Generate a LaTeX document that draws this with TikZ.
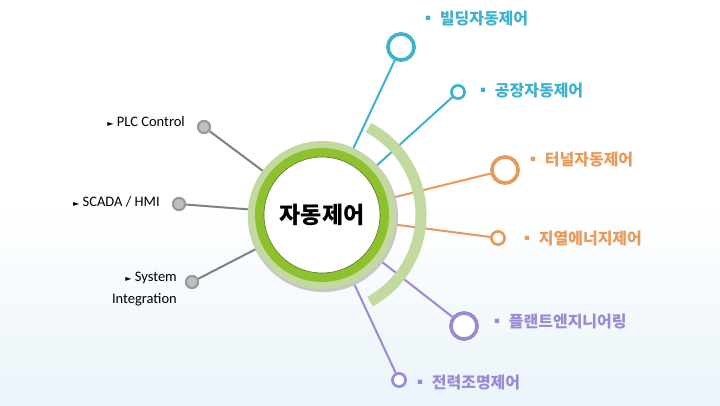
\documentclass[tikz,border=0pt]{standalone}
\usepackage{fontspec}
\setmainfont{Carlito}
\newfontfamily\kr{Noto Sans CJK KR}
\newfontfamily\djv{DejaVu Sans}
\definecolor{cy}{HTML}{3DB2CC}
\definecolor{orn}{HTML}{E89A5A}
\definecolor{pur}{HTML}{9A8AD6}
\definecolor{gry}{HTML}{808080}
\definecolor{lg}{HTML}{C2D9A0}
\definecolor{dg}{HTML}{8DC12E}
\definecolor{bgb}{HTML}{EAF4FA}
\tikzset{
  big/.style={circle,draw=#1,line width=3.5pt,fill=white,minimum size=26pt,inner sep=0pt},
  small/.style={circle,draw=#1,line width=2.5pt,fill=white,minimum size=13pt,inner sep=0pt},
  gdot/.style={circle,draw=gry!80,line width=2pt,fill=gray!50,minimum size=12pt,inner sep=0pt},
  conn/.style={line width=2pt,#1},
  klab/.style={text=#1,font=\kr\bfseries\fontsize{16}{18}\selectfont,anchor=west,inner sep=0pt},
  elab/.style={font=\fontsize{14.5}{22}\selectfont,inner sep=0pt,align=right}
}
\begin{document}
\begin{tikzpicture}[x=1pt,y=-1pt]
\shade[top color=white,bottom color=bgb,middle color=white] (0,0) rectangle (720,405);
\useasboundingbox (0,0) rectangle (720,405);
\coordinate (c) at (322,215);
\node[big=cy] (n1) at (401,47) {};
\node[small=cy] (n2) at (458,92) {};
\node[big=orn] (n3) at (505,170) {};
\node[small=orn] (n4) at (498,238) {};
\node[big=pur] (n5) at (464,326) {};
\node[small=pur] (n6) at (399,380) {};
\node[gdot] (g1) at (204,127) {};
\node[gdot] (g2) at (179,204) {};
\node[gdot] (g3) at (192,282) {};
\draw[conn=cy] (c) -- (n1); \draw[conn=cy] (c) -- (n2);
\draw[conn=orn] (c) -- (n3); \draw[conn=orn] (c) -- (n4);
\draw[conn=pur] (c) -- (n5); \draw[conn=pur] (c) -- (n6);
\draw[conn=gry] (c) -- (g1); \draw[conn=gry] (c) -- (g2); \draw[conn=gry] (c) -- (g3);
\draw[lg,line width=11pt] (c) ++(61:99) arc[start angle=61,end angle=-62,radius=99];
\node[big=cy] at (n1) {}; \node[small=cy] at (n2) {};
\node[big=orn] at (n3) {}; \node[small=orn] at (n4) {};
\node[big=pur] at (n5) {}; \node[small=pur] at (n6) {};
\node[gdot] at (g1) {}; \node[gdot] at (g2) {}; \node[gdot] at (g3) {};
\fill[gray!45] (323,217) circle (75);
\fill[lg] (c) circle (74);
\fill[dg] (c) circle (67);
\fill[white] (c) circle (58);
\draw[dg!60!black,line width=0.6pt] (c) circle (58);
\node[font=\kr\bfseries\fontsize{23}{26}\selectfont] (m) at (c) {자동제어};
\node[klab=cy] (l1) at (420,19) {▪ 빌딩자동제어};
\node[klab=cy] (l2) at (475,91) {▪ 공장자동제어};
\node[klab=orn] (l3) at (525,160) {▪ 터널자동제어};
\node[klab=orn] (l4) at (519,239) {▪ 지열에너지제어};
\node[klab=pur] (l5) at (489,322) {▪ 플랜트엔지니어링};
\node[klab=pur] (l6) at (412,383) {▪ 전력조명제어};
\node[elab,anchor=east] (e1) at (185,122) {{\djv\fontsize{8}{10}\selectfont►} PLC Control};
\node[elab,anchor=east] (e2) at (160,202) {{\djv\fontsize{8}{10}\selectfont►} SCADA / HMI};
\node[elab,anchor=east,align=right] (e3) at (177,289) {{\djv\fontsize{8}{10}\selectfont►} System\\Integration};
\end{tikzpicture}
\end{document}
